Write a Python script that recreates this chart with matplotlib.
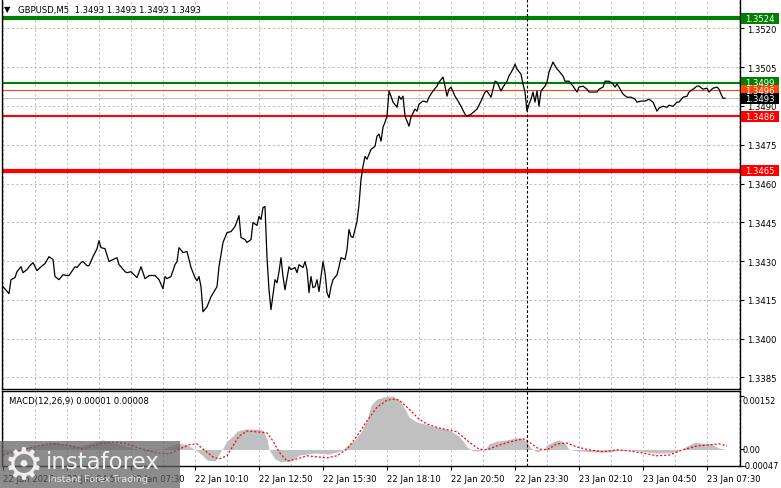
import matplotlib
matplotlib.use('Agg')
import matplotlib.pyplot as plt
from matplotlib.patches import Rectangle
from matplotlib.transforms import blended_transform_factory

plt.rcParams['font.family'] = ['DejaVu Sans']
FS = 6.1
W, H = 781, 489

# --- data: M5 bars counted from 22 Jan 02:10 ---
price_bars = [0, 3, 4, 6, 7, 9, 10, 12, 13, 15, 17, 19, 21, 23, 25, 26, 28, 30, 32, 33,
              36, 37, 39, 40, 42, 43, 45, 47, 48, 49, 51, 53, 55, 57, 58, 59, 61, 62, 64, 65,
              67, 69, 71, 73, 76, 78, 80, 81, 82, 84, 86, 87, 88, 90, 92, 94, 95, 96, 97, 98,
              99, 100, 102, 104, 107, 108, 110, 112, 114, 116, 118, 119, 121, 122, 124, 125, 127, 128, 129, 130,
              131, 132, 133, 134, 136, 137, 138, 139, 140, 141, 143, 144, 146, 147, 148, 150, 151, 152, 153, 154,
              155, 156, 157, 158, 160, 161, 162, 163, 164, 165, 167, 168, 169, 171, 172, 173, 174, 175, 177, 178,
              179, 180, 181, 182, 184, 186, 187, 188, 189, 190, 191, 192, 193, 194, 195, 197, 198, 199, 200, 201,
              203, 204, 206, 207, 208, 210, 212, 213, 215, 217, 218, 220, 221, 222, 223, 224, 226, 227, 229, 231,
              232, 234, 237, 239, 241, 242, 244, 246, 247, 249, 250, 252, 253, 255, 256, 257, 259, 260, 261, 262,
              263, 264, 265, 266, 267, 268, 269, 271, 272, 273, 274, 275, 277, 278, 280, 281, 283, 285, 287, 288,
              290, 292, 293, 297, 298, 300, 301, 303, 305, 306, 307, 308, 310, 312, 314, 316, 317, 319, 321, 323,
              325, 327, 328, 330, 332, 333, 335, 337, 338, 340, 342, 343, 345, 347, 348, 350, 352, 353, 355, 357,
              358, 359, 360, 361]
price_vals = [1.34201, 1.34174, 1.34228, 1.34236, 1.34259, 1.34278, 1.34255, 1.34267, 1.34278, 1.34294,
              1.34263, 1.34278, 1.34290, 1.34317, 1.34306, 1.34240, 1.34228, 1.34247, 1.34244, 1.34244,
              1.34278, 1.34275, 1.34294, 1.34298, 1.34282, 1.34282, 1.34317, 1.34348, 1.34379, 1.34352,
              1.34348, 1.34298, 1.34306, 1.34313, 1.34286, 1.34278, 1.34259, 1.34255, 1.34259, 1.34251,
              1.34236, 1.34278, 1.34232, 1.34244, 1.34244, 1.34228, 1.34193, 1.34240, 1.34232, 1.34240,
              1.34286, 1.34298, 1.34352, 1.34333, 1.34337, 1.34275, 1.34255, 1.34236, 1.34224, 1.34240,
              1.34201, 1.34104, 1.34123, 1.34162, 1.34201, 1.34278, 1.34372, 1.34410, 1.34414, 1.34434,
              1.34476, 1.34391, 1.34383, 1.34372, 1.34383, 1.34449, 1.34438, 1.34473, 1.34461, 1.34507,
              1.34511, 1.34313, 1.34189, 1.34112, 1.34228, 1.34216, 1.34259, 1.34313, 1.34240, 1.34189,
              1.34278, 1.34267, 1.34275, 1.34255, 1.34286, 1.34275, 1.34298, 1.34267, 1.34178, 1.34240,
              1.34197, 1.34201, 1.34228, 1.34182, 1.34298, 1.34255, 1.34178, 1.34158, 1.34201, 1.34228,
              1.34247, 1.34278, 1.34313, 1.34306, 1.34344, 1.34422, 1.34395, 1.34391, 1.34453, 1.34519,
              1.34616, 1.34666, 1.34705, 1.34694, 1.34732, 1.34744, 1.34783, 1.34791, 1.34764, 1.34818,
              1.34837, 1.34861, 1.34958, 1.34938, 1.34915, 1.34895, 1.34938, 1.34926, 1.34938, 1.34861,
              1.34822, 1.34857, 1.34888, 1.34880, 1.34907, 1.34919, 1.34915, 1.34934, 1.34958, 1.34977,
              1.34992, 1.35012, 1.34977, 1.34938, 1.34965, 1.34973, 1.34938, 1.34926, 1.34899, 1.34868,
              1.34861, 1.34868, 1.34888, 1.34919, 1.34954, 1.34958, 1.34934, 1.34996, 1.34992, 1.34958,
              1.34973, 1.34996, 1.35016, 1.35043, 1.35062, 1.35043, 1.35023, 1.34985, 1.34954, 1.34880,
              1.34907, 1.34926, 1.34954, 1.34915, 1.34958, 1.34899, 1.34958, 1.34977, 1.34992, 1.35031,
              1.35051, 1.35070, 1.35043, 1.35035, 1.35016, 1.34996, 1.34996, 1.34977, 1.34954, 1.34973,
              1.34977, 1.34965, 1.34954, 1.34954, 1.34965, 1.34973, 1.34996, 1.34996, 1.34985, 1.34973,
              1.34985, 1.34973, 1.34946, 1.34934, 1.34934, 1.34926, 1.34915, 1.34919, 1.34919, 1.34926,
              1.34915, 1.34880, 1.34892, 1.34899, 1.34895, 1.34903, 1.34899, 1.34915, 1.34915, 1.34934,
              1.34938, 1.34954, 1.34965, 1.34977, 1.34977, 1.34965, 1.34969, 1.34954, 1.34969, 1.34973,
              1.34965, 1.34946, 1.34930, 1.34930]

hist_bars = [0, 6, 13, 21, 26, 31, 38, 46, 50, 56, 63, 71, 78, 84, 88, 92, 96, 100, 102, 106,
             108, 110, 112, 115, 117, 121, 126, 130, 132, 133, 136, 139, 144, 148, 156, 163, 169, 172, 176, 179,
             182, 184, 187, 191, 195, 198, 201, 203, 207, 211, 216, 221, 224, 228, 230, 232, 235, 238, 241, 243,
             247, 252, 256, 259, 262, 264, 267, 270, 272, 276, 278, 281, 283, 288, 296, 303, 311, 318, 326, 333,
             338, 342, 346, 349, 354, 358, 361]
hist_vals = [-0.00013, -0.00004, 0.00007, 0.00016, 0.00021, 0.00013, 0.00010, 0.00021, 0.00027, 0.00018,
             0.00007, -0.00004, -0.00001, 0.00010, 0.00018, 0.00013, 0.00000, -0.00018, -0.00030, -0.00033,
             -0.00013, 0.00004, 0.00024, 0.00038, 0.00052, 0.00058, 0.00058, 0.00055, 0.00030, 0.00000,
             -0.00027, -0.00035, -0.00033, -0.00016, -0.00010, -0.00013, -0.00004, 0.00010, 0.00027, 0.00050,
             0.00083, 0.00126, 0.00143, 0.00150, 0.00152, 0.00140, 0.00115, 0.00092, 0.00078, 0.00072,
             0.00064, 0.00058, 0.00052, 0.00038, 0.00024, 0.00007, -0.00004, -0.00004, 0.00000, 0.00016,
             0.00024, 0.00027, 0.00033, 0.00033, 0.00021, 0.00004, -0.00007, -0.00001, 0.00013, 0.00024,
             0.00027, 0.00018, 0.00000, -0.00004, -0.00007, -0.00007, -0.00001, -0.00004, -0.00010, -0.00010,
             -0.00004, 0.00010, 0.00021, 0.00018, 0.00016, 0.00004, 0.00001]

sig_bars = [0, 8, 15, 23, 32, 40, 48, 55, 62, 68, 77, 83, 88, 93, 97, 100, 105, 108, 112, 115,
            118, 122, 127, 132, 135, 138, 142, 147, 152, 157, 162, 167, 172, 177, 182, 187, 192, 196, 198, 203,
            208, 212, 218, 227, 233, 238, 242, 247, 253, 260, 263, 268, 272, 277, 282, 287, 293, 300, 307, 313,
            320, 327, 333, 340, 347, 353, 358, 362]
sig_vals = [-0.00016, -0.00004, 0.00007, 0.00016, 0.00013, 0.00001, 0.00016, 0.00021, 0.00016, 0.00004,
            -0.00010, -0.00013, 0.00001, 0.00013, 0.00016, 0.00001, -0.00021, -0.00027, -0.00018, 0.00010,
            0.00038, 0.00052, 0.00050, 0.00047, 0.00024, -0.00007, -0.00033, -0.00027, -0.00018, -0.00021,
            -0.00024, -0.00018, 0.00001, 0.00038, 0.00081, 0.00120, 0.00140, 0.00143, 0.00140, 0.00115,
            0.00086, 0.00072, 0.00061, 0.00050, 0.00021, 0.00001, -0.00001, 0.00010, 0.00021, 0.00030,
            0.00021, 0.00001, -0.00001, 0.00016, 0.00018, 0.00007, -0.00001, -0.00007, -0.00001, -0.00004,
            -0.00010, -0.00018, -0.00016, -0.00001, 0.00010, 0.00013, 0.00016, 0.00010]

level_vals = [1.3524, 1.3499, 1.3496, 1.3493, 1.3486, 1.3465]
level_line_colors = ['#008000', '#008000', '#ff4500', '#c0c0c0', '#ff0000', '#ff0000']
level_box_colors = ['#008000', '#008000', '#ff4500', '#000000', '#ff0000', '#ff0000']
level_widths = [3.0, 1.5, 0.8, 0.8, 1.5, 3.0]

price_ticks = [1.3385, 1.3400, 1.3415, 1.3430, 1.3445, 1.3460, 1.3475, 1.3490, 1.3505, 1.3520]
grid_bars = list(range(0, 369, 16))
time_tick_bars = list(range(0, 353, 32))
time_tick_labels = ['22 Jan 2026', '22 Jan 04:50', '22 Jan 07:30', '22 Jan 10:10', '22 Jan 12:50',
                    '22 Jan 15:30', '22 Jan 18:10', '22 Jan 20:50', '22 Jan 23:30', '23 Jan 02:10',
                    '23 Jan 04:50', '23 Jan 07:30']
cursor_bar = 262
macd_ticks = [0.00152, 0.0, -0.00047]
macd_tick_labels = ['0.00152', '0.00', '-0.00047']

# --- figure ---
fig = plt.figure(figsize=(W / 100, H / 100), dpi=100)
ax = fig.add_axes([2 / W, 1 - 390 / H, 738 / W, 390 / H])
ax2 = fig.add_axes([2 / W, 1 - 467 / H, 738 / W, 75 / H])

grid_kw = dict(color='#c0c0c0', lw=0.75, dashes=(2.2, 2.2), zorder=0)
for a in (ax, ax2):
    a.set_xlim(-0.5, 368.5)
    for b in grid_bars:
        a.axvline(b, **grid_kw)
    a.axvline(cursor_bar, color='black', lw=0.8, dashes=(2.5, 1.8), zorder=3)
    for s in a.spines.values():
        s.set_linewidth(1.0)
    a.yaxis.tick_right()
    a.tick_params(axis='y', direction='out', length=3, width=0.8, pad=2.2, labelsize=FS)

# main price panel
ax.set_ylim(1.33805, 1.35314)
ax.spines['top'].set_visible(False)
for p in price_ticks:
    ax.axhline(p, **grid_kw)
ax.set_yticks(price_ticks)
ax.set_yticklabels([f'{p:.4f}' for p in price_ticks])
ax.set_xticks([])
for v, c, w in zip(level_vals, level_line_colors, level_widths):
    ax.axhline(v, color=c, lw=w, zorder=2)
ax.plot(price_bars, price_vals, color='black', lw=0.9, zorder=4)

tr = blended_transform_factory(ax.transAxes, ax.transData)
box_h = 11 / 25840
for v, c in zip(level_vals, level_box_colors):
    ax.add_patch(Rectangle((1.0014, v - box_h / 2), 0.051, box_h, transform=tr,
                           facecolor=c, edgecolor='none', clip_on=False, zorder=6))
    ax.text(1.0014 + 0.0255, v, f'{v:.4f}', transform=tr, ha='center', va='center',
            color='white', fontsize=FS, clip_on=False, zorder=7)

# MACD panel
ax2.set_ylim(-0.00047, 0.00166)
ax2.fill_between(hist_bars, 0, hist_vals, color='#c0c0c0', lw=0, zorder=1)
ax2.plot(sig_bars, sig_vals, color='#ff0000', lw=0.9, dashes=(1.6, 1.6), zorder=2)
ax2.set_yticks(macd_ticks)
ax2.set_yticklabels([])
tr2 = blended_transform_factory(ax2.transAxes, ax2.transData)
for v, lab, va in zip(macd_ticks, macd_tick_labels, ['top', 'center', 'center']):
    ax2.text(1.0035, v, lab, transform=tr2, ha='left', va=va, fontsize=5.9, clip_on=False)
ax2.set_xticks(time_tick_bars)
ax2.set_xticklabels(time_tick_labels, ha='left', fontsize=FS)
ax2.tick_params(axis='x', direction='out', length=3, width=0.8, pad=3)
ax2.text(7 / 738, 1 - 10 / 75, 'MACD(12,26,9) 0.00001 0.00008', transform=ax2.transAxes,
         ha='left', va='center', fontsize=FS)

# header
fig.text(4 / W, 1 - 10 / H, '\u25bc', fontsize=6, ha='left', va='center')
fig.text(18 / W, 1 - 10 / H, 'GBPUSD,M5  1.3493 1.3493 1.3493 1.3493', fontsize=FS,
         ha='left', va='center')

# watermark
fig.add_artist(Rectangle((0, 0), 180 / W, 47 / H, transform=fig.transFigure,
                         facecolor='#606060', alpha=0.72, edgecolor='none', zorder=10))
fig.text(24 / W, 1 - 466 / H, '\u2699', fontsize=32, color='#eeeeee', ha='center',
         va='center', zorder=11)
fig.text(46 / W, 1 - 463 / H, 'instaforex', fontsize=16.5, color='#f0f0f0', ha='left',
         va='center', zorder=11)
fig.text(48 / W, 1 - 480 / H, 'Instant Forex Trading', fontsize=6.8, color='#e6e6e6',
         ha='left', va='center', zorder=11)

fig.savefig('out.png', dpi=100)
